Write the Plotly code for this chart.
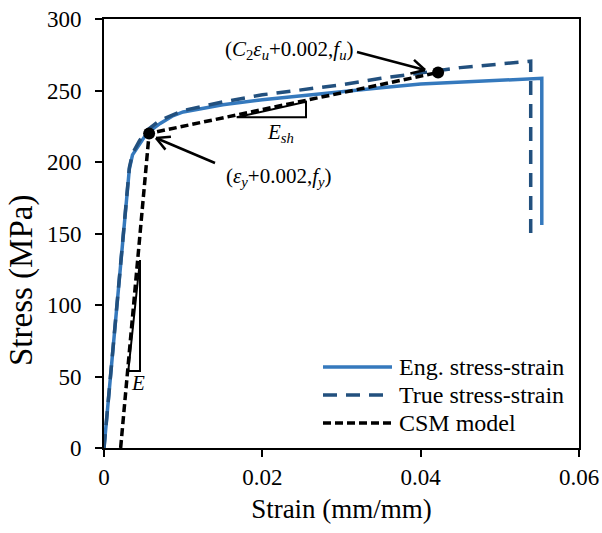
import math
import plotly.graph_objects as go

# ---------------- data ----------------
eng_strain = [0, 0.00295, 0.0032, 0.0036, 0.0045, 0.0054, 0.0071, 0.0086, 0.010, 0.015,
              0.020, 0.025, 0.030, 0.035, 0.040, 0.045, 0.050, 0.0553, 0.0553]
eng_stress = [0, 180, 195, 205, 213, 220, 227, 232, 235, 240,
              243.5, 246.5, 249, 252, 254.5, 256, 257, 258.5, 156]

true_strain = [0, 0.00295, 0.0032, 0.0036, 0.0045, 0.0054, 0.0070, 0.010, 0.015, 0.020,
               0.025, 0.030, 0.035, 0.040, 0.045, 0.050, 0.0539, 0.0539]
true_stress = [0, 180, 196, 206, 215, 222, 229, 236, 242, 247,
               250.5, 254, 258.5, 262.5, 266, 268.5, 270.5, 150]

csm_strain = [0.0021, 0.0057, 0.0422]
csm_stress = [0, 220, 262.6]

x_ticks = [0, 0.02, 0.04, 0.06]
x_ticktext = ["0", "0.02", "0.04", "0.06"]
y_ticks = [0, 50, 100, 150, 200, 250, 300]

series_names = ["Eng. stress-strain", "True stress-strain", "CSM model"]
x_title = "Strain (mm/mm)"
y_title = "Stress (MPa)"

# ---------------- styling ----------------
W, H = 602, 533
ML, MR, MT, MB = 104, 23, 19, 85
XR = [0, 0.06]
YR = [0, 300]
PW, PH = W - ML - MR, H - MT - MB

FONT = "Liberation Serif, Times New Roman, serif"
C_ENG = "#3579bd"
C_TRUE = "#22507e"
C_CSM = "black"
DASH_TRUE = "14px,9px"
DASH_CSM = "8px,4px"


def px2x(px):
    return XR[0] + (px - ML) / PW * (XR[1] - XR[0])


def py2y(py):
    return YR[0] + (MT + PH - py) / PH * (YR[1] - YR[0])


def px2paperx(px):
    return (px - ML) / PW


def py2papery(py):
    return (MT + PH - py) / PH


fig = go.Figure()
fig.add_trace(go.Scatter(x=eng_strain, y=eng_stress, mode="lines", name=series_names[0],
                         line=dict(color=C_ENG, width=3.5), showlegend=False))
fig.add_trace(go.Scatter(x=true_strain, y=true_stress, mode="lines", name=series_names[1],
                         line=dict(color=C_TRUE, width=3.5, dash=DASH_TRUE), showlegend=False))
fig.add_trace(go.Scatter(x=csm_strain, y=csm_stress, mode="lines", name=series_names[2],
                         line=dict(color=C_CSM, width=3.5, dash=DASH_CSM), showlegend=False))
fig.add_trace(go.Scatter(x=csm_strain[1:], y=csm_stress[1:], mode="markers",
                         marker=dict(color="black", size=12), showlegend=False))

shapes = []
annotations = []

# slope triangles (E and E_sh)
def tri(px_pts):
    d = "M " + " L ".join(f"{px2x(a)},{py2y(b)}" for a, b in px_pts) + " Z"
    return dict(type="path", xref="x", yref="y", path=d,
                line=dict(color="black", width=2))

shapes.append(tri([(128.3, 371), (140, 371), (140, 260)]))
shapes.append(tri([(236.7, 117.3), (306, 117.3), (306, 101.7)]))


# arrows with open heads
def arrow(tail, tip, head=15, ang=28):
    x0, y0 = tail
    x1, y1 = tip
    th = math.atan2(y0 - y1, x0 - x1)
    segs = [(tail, tip)]
    for s in (-1, 1):
        a = th + s * math.radians(ang)
        segs.append((tip, (x1 + head * math.cos(a), y1 + head * math.sin(a))))
    for (a, b) in segs:
        shapes.append(dict(type="line", xref="x", yref="y",
                           x0=px2x(a[0]), y0=py2y(a[1]), x1=px2x(b[0]), y1=py2y(b[1]),
                           line=dict(color="black", width=2.5)))

arrow((357, 52), (425, 70))
arrow((215, 163), (156, 138))

AF = dict(family=FONT, size=21, color="black")
annotations.append(dict(x=px2paperx(289), y=py2papery(50), xref="paper", yref="paper",
                        text="(<i>C</i><sub>2</sub><i>ε<sub>u</sub></i>+0.002,<i>f<sub>u</sub></i>)",
                        showarrow=False, font=AF, xanchor="center", yanchor="middle"))
annotations.append(dict(x=px2paperx(279), y=py2papery(177), xref="paper", yref="paper",
                        text="(<i>ε<sub>y</sub></i>+0.002,<i>f<sub>y</sub></i>)",
                        showarrow=False, font=AF, xanchor="center", yanchor="middle"))
annotations.append(dict(x=px2paperx(138), y=py2papery(383), xref="paper", yref="paper",
                        text="<i>E</i>", showarrow=False, font=AF,
                        xanchor="center", yanchor="middle"))
annotations.append(dict(x=px2paperx(280), y=py2papery(133), xref="paper", yref="paper",
                        text="<i>E<sub>sh</sub></i>", showarrow=False, font=AF,
                        xanchor="center", yanchor="middle"))

# y-axis title
annotations.append(dict(x=px2paperx(21), y=py2papery(281), xref="paper", yref="paper",
                        text=y_title, textangle=-90, showarrow=False,
                        xanchor="center", yanchor="middle",
                        font=dict(family=FONT, size=33, color="black")))

# custom legend
leg_rows = [367, 395, 423]
leg_styles = [dict(color=C_ENG, width=3.5),
              dict(color=C_TRUE, width=3.5, dash=DASH_TRUE),
              dict(color=C_CSM, width=3.5, dash=DASH_CSM)]
for name, py, st in zip(series_names, leg_rows, leg_styles):
    shapes.append(dict(type="line", xref="paper", yref="paper",
                       x0=px2paperx(323), x1=px2paperx(392),
                       y0=py2papery(py), y1=py2papery(py), line=st))
    annotations.append(dict(x=px2paperx(397), y=py2papery(py), xref="paper", yref="paper",
                            text=name, showarrow=False, xanchor="left", yanchor="middle",
                            font=dict(family=FONT, size=24, color="black")))

axis_common = dict(showline=True, linecolor="black", linewidth=2, mirror=True,
                   ticks="outside", ticklen=7, tickwidth=2, tickcolor="black",
                   showgrid=False, zeroline=False, automargin=False,
                   tickfont=dict(family=FONT, size=23, color="black"))

fig.update_layout(
    width=W, height=H,
    margin=dict(l=ML, r=MR, t=MT, b=MB, autoexpand=False),
    plot_bgcolor="white", paper_bgcolor="white",
    showlegend=False,
    shapes=shapes, annotations=annotations,
    xaxis=dict(range=XR, tickvals=x_ticks, ticktext=x_ticktext,
               title=dict(text=x_title, font=dict(family=FONT, size=27, color="black"),
                          standoff=11),
               **axis_common),
    yaxis=dict(range=YR, tickvals=y_ticks, ticklabelstandoff=9,
               **axis_common),
)

fig.write_html("out.html")
